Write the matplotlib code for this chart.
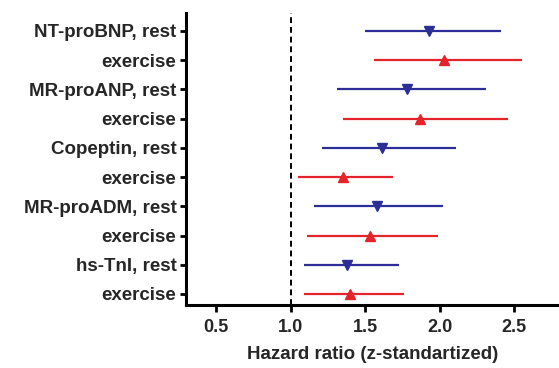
import numpy as np
import matplotlib.pyplot as plt

plt.rcParams['font.family'] = ['Liberation Sans', 'DejaVu Sans']

# biomarker rows, top to bottom
labels = ["NT-proBNP, rest", "exercise", "MR-proANP, rest", "exercise",
          "Copeptin, rest", "exercise", "MR-proADM, rest", "exercise",
          "hs-TnI, rest", "exercise"]
hr = [1.93, 2.03, 1.78, 1.87, 1.61, 1.35, 1.58, 1.53, 1.38, 1.40]
ci_low = [1.50, 1.56, 1.31, 1.35, 1.21, 1.05, 1.16, 1.11, 1.09, 1.09]
ci_high = [2.41, 2.55, 2.31, 2.46, 2.11, 1.69, 2.02, 1.99, 1.73, 1.76]
is_rest = [True, False] * 5

blue = "#2a2e96"
red = "#e3242b"
txt = "#262626"

fig = plt.figure(figsize=(5.59, 3.68), dpi=100)
ax = fig.add_axes([0.333, 0.171, 0.667, 0.794])

y = np.arange(len(labels))
for yi, h, lo, hi, rest in zip(y, hr, ci_low, ci_high, is_rest):
    c = blue if rest else red
    ax.plot([lo, hi], [yi, yi], color=c, lw=1.6, solid_capstyle='butt')
    ax.plot(h, yi, marker='v' if rest else '^', color=c, ms=7, mec=c)

ax.axvline(1.0, color='black', ls=(0, (3, 2)), lw=1.4)

ax.set_ylim(9.38, -0.62)
ax.set_xlim(0.3, 2.8)
ax.set_yticks(y)
ax.set_yticklabels(labels, fontsize=13.5, fontweight='bold', color=txt)
ax.set_xticks([0.5, 1.0, 1.5, 2.0, 2.5])
ax.set_xticklabels(["0.5", "1.0", "1.5", "2.0", "2.5"], fontsize=13,
                   fontweight='bold', color=txt)
ax.set_xlabel("Hazard ratio (z-standartized)", fontsize=13.5,
              fontweight='bold', color=txt, labelpad=7)

for side in ['top', 'right']:
    ax.spines[side].set_visible(False)
for side in ['left', 'bottom']:
    ax.spines[side].set_linewidth(2.2)
ax.tick_params(axis='y', width=2, length=4, pad=3)
ax.tick_params(axis='x', width=2, length=5, pad=5)

fig.savefig("out.png", dpi=100)
